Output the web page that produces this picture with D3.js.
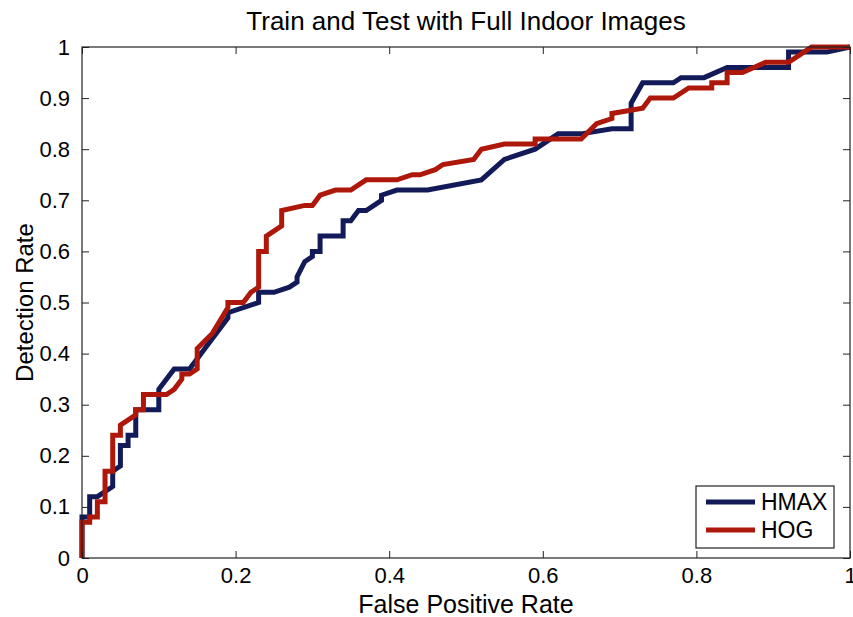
<!DOCTYPE html>
<html>
<head>
<meta charset="utf-8">
<title>Train and Test with Full Indoor Images</title>
<script src="https://d3js.org/d3.v7.min.js"></script>
<style>
  body { margin: 0; background: #fff; }
  text { font-family: "Liberation Sans", Arial, sans-serif; fill: #000; }
</style>
</head>
<body>
<svg width="853" height="617"></svg>
<script>
// ROC points: [false positive rate, detection rate]
var hmax = [[0,0],[0,0.08],[0.01,0.08],[0.01,0.12],[0.02,0.12],[0.04,0.14],[0.04,0.17],[0.05,0.18],[0.05,0.22],
  [0.06,0.22],[0.06,0.24],[0.07,0.24],[0.07,0.29],[0.10,0.29],[0.10,0.33],[0.12,0.37],[0.14,0.37],[0.16,0.41],
  [0.19,0.47],[0.19,0.48],[0.23,0.50],[0.23,0.52],[0.25,0.52],[0.27,0.53],[0.28,0.54],[0.28,0.55],[0.29,0.58],
  [0.30,0.59],[0.30,0.60],[0.31,0.60],[0.31,0.63],[0.34,0.63],[0.34,0.66],[0.35,0.66],[0.36,0.68],[0.37,0.68],
  [0.39,0.70],[0.39,0.71],[0.41,0.72],[0.45,0.72],[0.52,0.74],[0.55,0.78],[0.59,0.80],[0.62,0.83],[0.65,0.83],
  [0.69,0.84],[0.715,0.84],[0.715,0.89],[0.73,0.93],[0.77,0.93],[0.78,0.94],[0.81,0.94],[0.84,0.96],[0.92,0.96],
  [0.92,0.99],[0.97,0.99],[1,1]];

var hog = [[0,0],[0,0.07],[0.01,0.07],[0.01,0.08],[0.02,0.08],[0.02,0.11],[0.03,0.11],[0.03,0.17],[0.04,0.17],
  [0.04,0.24],[0.05,0.24],[0.05,0.26],[0.07,0.28],[0.07,0.29],[0.08,0.29],[0.08,0.32],[0.11,0.32],[0.12,0.33],
  [0.13,0.35],[0.13,0.36],[0.14,0.36],[0.15,0.37],[0.15,0.41],[0.17,0.44],[0.19,0.49],[0.19,0.50],[0.21,0.50],
  [0.22,0.52],[0.23,0.53],[0.23,0.60],[0.24,0.60],[0.24,0.63],[0.26,0.65],[0.26,0.68],[0.29,0.69],[0.30,0.69],
  [0.31,0.71],[0.33,0.72],[0.35,0.72],[0.37,0.74],[0.41,0.74],[0.43,0.75],[0.44,0.75],[0.46,0.76],[0.47,0.77],
  [0.51,0.78],[0.52,0.80],[0.55,0.81],[0.59,0.81],[0.59,0.82],[0.65,0.82],[0.67,0.85],[0.69,0.86],[0.69,0.87],
  [0.73,0.88],[0.74,0.90],[0.77,0.90],[0.79,0.92],[0.82,0.92],[0.82,0.93],[0.84,0.93],[0.84,0.95],[0.86,0.95],
  [0.89,0.97],[0.92,0.97],[0.94,0.99],[0.95,1.0],[1,1]];

var seriesNames = ["HMAX", "HOG"];
var seriesColors = ["#121a58", "#ae180a"];
var xTicks = [0, 0.2, 0.4, 0.6, 0.8, 1];
var yTicks = [0, 0.1, 0.2, 0.3, 0.4, 0.5, 0.6, 0.7, 0.8, 0.9, 1];

var svg = d3.select("svg");
var x = d3.scaleLinear().domain([0, 1]).range([82, 850]);
var y = d3.scaleLinear().domain([0, 1]).range([558, 47]);

var fmt = function(d) { return String(d); };

// curves first, frame on top like matlab
var line = d3.line().x(function(d) { return x(d[0]); }).y(function(d) { return y(d[1]); });
[hmax, hog].forEach(function(s, i) {
  svg.append("path")
    .datum(s)
    .attr("fill", "none")
    .attr("stroke", seriesColors[i])
    .attr("stroke-width", 5)
    .attr("stroke-linejoin", "miter")
    .attr("d", line);
});

function styleAxis(g) {
  g.select(".domain").remove();
  g.selectAll(".tick line").attr("stroke", "#222");
  g.selectAll(".tick text").attr("font-size", 22).attr("font-family", "Liberation Sans, Arial, sans-serif");
}

svg.append("g").attr("transform", "translate(0," + y(0) + ")")
  .call(d3.axisBottom(x).tickValues(xTicks).tickFormat(fmt).tickSizeInner(-7).tickSizeOuter(0).tickPadding(9))
  .call(styleAxis);
svg.append("g").attr("transform", "translate(0," + y(1) + ")")
  .call(d3.axisTop(x).tickValues(xTicks).tickFormat("").tickSizeInner(-7).tickSizeOuter(0))
  .call(styleAxis);
svg.append("g").attr("transform", "translate(" + x(0) + ",0)")
  .call(d3.axisLeft(y).tickValues(yTicks).tickFormat(fmt).tickSizeInner(-7).tickSizeOuter(0).tickPadding(12))
  .call(styleAxis);
svg.append("g").attr("transform", "translate(" + x(1) + ",0)")
  .call(d3.axisRight(y).tickValues(yTicks).tickFormat("").tickSizeInner(-7).tickSizeOuter(0))
  .call(styleAxis);

svg.append("rect")
  .attr("x", x(0)).attr("y", y(1))
  .attr("width", x(1) - x(0)).attr("height", y(0) - y(1))
  .attr("fill", "none").attr("stroke", "#222").attr("stroke-width", 1.2);

svg.append("text")
  .attr("x", (x(0) + x(1)) / 2).attr("y", 30)
  .attr("text-anchor", "middle").attr("font-size", 26)
  .text("Train and Test with Full Indoor Images");

svg.append("text")
  .attr("x", (x(0) + x(1)) / 2).attr("y", 613)
  .attr("text-anchor", "middle").attr("font-size", 25)
  .text("False Positive Rate");

svg.append("text")
  .attr("transform", "translate(33," + ((y(0) + y(1)) / 2) + ") rotate(-90)")
  .attr("text-anchor", "middle").attr("font-size", 24)
  .text("Detection Rate");

// legend
var lg = svg.append("g").attr("transform", "translate(696,486)");
lg.append("rect").attr("width", 138).attr("height", 62)
  .attr("fill", "#fff").attr("stroke", "#222").attr("stroke-width", 1.2);
seriesNames.forEach(function(n, i) {
  lg.append("line").attr("x1", 10).attr("x2", 59).attr("y1", 16 + i * 28).attr("y2", 16 + i * 28)
    .attr("stroke", seriesColors[i]).attr("stroke-width", 5);
  lg.append("text").attr("x", 65).attr("y", 24 + i * 28).attr("font-size", 23).text(n);
});
</script>
</body>
</html>
